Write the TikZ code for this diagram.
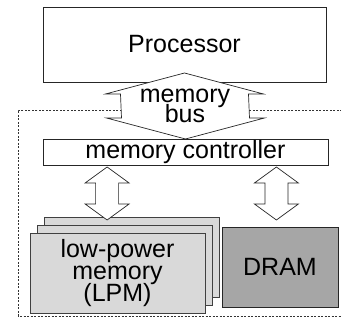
\documentclass[tikz,border=0pt]{standalone}
\usepackage{fontspec}
\setmainfont{Liberation Sans}
\usetikzlibrary{calc}
\definecolor{lpmgray}{HTML}{D9D9D9}
\definecolor{dramgray}{HTML}{A6A6A6}
% tight stacked lines inside the boxes
\setlength{\lineskiplimit}{-100pt}
\tikzset{block/.style={draw=black!85, line width=0.7pt, fill=white, inner sep=0pt, outer sep=0pt, minimum width=#1}}
\tikzset{lpm/.style={block=175pt, minimum height=80pt, fill=lpmgray, draw=black!75}}
\tikzset{fat/.style={draw=black!85, line width=0.7pt, fill=white, line join=miter}}
\tikzset{txt/.style={font=\fontsize{25}{#1}\selectfont, align=center}}
\tikzset{txt/.default=22}
\tikzset{group/.style={draw=black!80, line width=0.6pt, dash pattern=on 2pt off 1.5pt}}
% double headed fat arrow: top tip, bottom tip, head half width, shaft half width, head length
\newcommand{\fatarrow}[5]{%
  \draw[fat] (#1) -- ++(-#3,-#5) -- ++(#3-#4,0) -- ($(#2)+(-#4,#5)$) -- ++(#4-#3,0) -- (#2)
    -- ++(#3,#5) -- ++(#4-#3,0) -- ($(#1)+(#4,-#5)$) -- ++(#3-#4,0) -- cycle;}

\begin{document}
\begin{tikzpicture}[x=1pt, y=1pt]
            \useasboundingbox (0,0) rectangle (341,326);
            \draw[group] (370,216) -- (18,216) -- (18,10) -- (370,10);
            \node[block=283pt, minimum height=75pt, txt] (proc) at (184.5,281.5) {Processor};
            \node[block=285pt, minimum height=26pt, txt] (ctrl) at (185.5,174) {memory controller};
            % memory bus
            \coordinate (bustop) at ($(proc.south)+(0,9)$);
            \fatarrow{bustop}{ctrl.north}{79}{64}{21}
            \node[txt=20] (bus) at ($(bustop)!0.5!(ctrl.north)$) {memory\\bus};
            % memory modules
            \node[lpm] (lpmA) at (132,69) {};
            \node[lpm] (lpmB) at (125,60.5) {};
            \node[lpm, txt] (lpm) at (117.5,53) {low-power\\memory\\(LPM)};
            \node[block=116pt, minimum height=80pt, fill=dramgray, txt] (dram) at (280,59) {DRAM};
            % controller links
            \coordinate (lpmtop) at ($(ctrl.south west)!0.225!(ctrl.south east)+(0,-2)$);
            \coordinate (dramtop) at ($(ctrl.south west)!0.819!(ctrl.south east)+(0,-2)$);
            \coordinate (lpmtip) at ($(lpmtop |- lpmA.north)+(0,-3)$);
            \coordinate (dramtip) at ($(dramtop |- dram.north)+(0,7)$);
            \fatarrow{lpmtop}{lpmtip}{22}{11.5}{16}
            \fatarrow{dramtop}{dramtip}{22}{11.5}{16}
        \end{tikzpicture}
\end{document}
